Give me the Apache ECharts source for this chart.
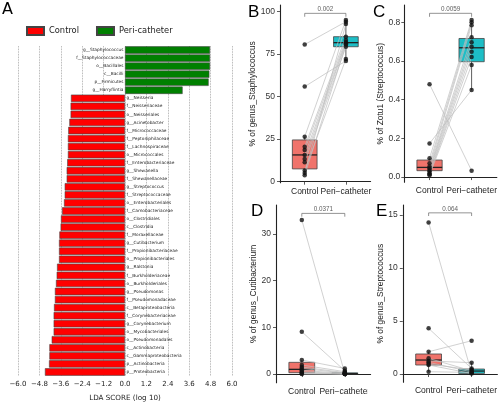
<!DOCTYPE html>
<html><head><meta charset="utf-8">
<script src="https://cdn.jsdelivr.net/npm/echarts@6/dist/echarts.min.js"></script>
<style>html,body{margin:0;padding:0;background:#fff}#c{width:500px;height:407px}</style>
</head><body><div id="c"></div>
<script>
// ---- Panel A: LDA scores (top to bottom) ----
const ldaTaxa = ['g__Staphylococcus','f__Staphylococcaceae','o__Bacillales','c__Bacilli','p__Firmicutes','g__Harryflintia',
 'g__Neisseria','f__Neisseriaceae','o__Neisseriales','g__Acinetobacter','f__Micrococcaceae','f__Peptoniphilaceae',
 'f__Lachnospiraceae','o__Micrococcales','f__Enterobacteriaceae','g__Shewanella','f__Shewanellaceae','g__Streptococcus',
 'f__Streptococcaceae','o__Enterobacteriales','f__Carnobacteriaceae','o__Clostridiales','c__Clostridia','f__Moraxellaceae',
 'g__Cutibacterium','f__Propionibacteriaceae','o__Propionibacteriales','g__Ralstonia','f__Burkholderiaceae','o__Burkholderiales',
 'g__Pseudomonas','f__Pseudomonadaceae','c__Betaproteobacteria','f__Corynebacteriaceae','g__Corynebacterium','o__Mycobacteriales',
 'o__Pseudomonadales','c__Actinobacteria','c__Gammaproteobacteria','p__Actinobacteria','p__Proteobacteria'];
const ldaScores = [4.77,4.77,4.77,4.73,4.69,3.23,
 -3.03,-3.05,-3.05,-3.12,-3.18,-3.20,
 -3.20,-3.20,-3.24,-3.27,-3.27,-3.38,
 -3.38,-3.42,-3.53,-3.59,-3.61,-3.68,
 -3.70,-3.70,-3.70,-3.81,-3.83,-3.87,
 -3.93,-3.93,-3.98,-4.00,-4.00,-4.00,
 -4.11,-4.24,-4.24,-4.26,-4.49];
const groupNames = ['Control','Peri-catheter'];
const xCatLabels = ['Control','Peri\u2212catheter'];

// ---- Panel B: % of genus_Staphylococcus ----
const bControl = [80.5,55.8,26.4,20.5,18.6,15.7,13.3,11.4,6.5,5.1,3.7];
const bPeri    = [93.9,70.9,94.9,85.1,83.2,82.0,81.2,79.2,72.0,92.5,80.5];
const bBoxControl = [3.7,7.5,15.7,24.5,26.4];
const bBoxPeri    = [70.9,79.2,81.6,85.1,94.9];
const bTicks = [0,25,50,75,100];
const bP = '0.002';

// ---- Panel C: % of Zotu1 (Streptococcus) ----
const cControl = [0.48,0.174,0.097,0.071,0.054,0.045,0.037,0.03,0.02,0.015,0.01];
const cPeri    = [0.033,0.45,0.811,0.80,0.785,0.722,0.696,0.673,0.648,0.62,0.579];
const cBoxControl = [0.01,0.033,0.05,0.088,0.097];
const cBoxPeri    = [0.45,0.596,0.668,0.716,0.811];
const cTicks = [0,0.2,0.4,0.6,0.8];
const cP = '0.0059';

// ---- Panel D: % of genus_Cutibacterium ----
const dControl = [33,9.06,3.0,1.93,1.5,1.2,0.8,0.5,0.3,0.1,0];
const dPeri    = [0.1,0.7,1.2,0.5,0.3,0.2,0.1,0.05,0,0,0];
const dBoxControl = [0,0.28,1.0,2.5,3.0];
const dBoxPeri    = [0,0.02,0.08,0.25,0.5];
const dTicks = [0,10,20,30];
const dP = '0.0371';

// ---- Panel E: % of genus_Streptococcus ----
const eControl = [14.3,4.31,2.1,1.48,1.23,1.1,0.94,0.85,0.22];
const ePeri    = [0.1,0.53,3.14,0.3,1.07,0.2,0.4,0.05,0.15];
const eBoxControl = [0.22,0.85,1.32,1.89,2.1];
const eBoxPeri    = [0,0.06,0.28,0.47,1.07];
const eTicks = [0,5,10,15];
const eP = '0.064';

const RED='#FF0000', GREEN='#008000', CTRL_FILL='#F0736B', PERI_FILL='#1DBEC6';
const FA = 'DejaVu Sans', FB = 'Liberation Sans, Arial, sans-serif';

const chart = echarts.init(document.getElementById('c'), null, {renderer:'canvas'});

const panels = [
 {grid:{left:280, top:5, width:90.6, height:177.7}, ymin:-0.6, ymax:103.7, ticks:bTicks, fmt:v=>String(v),
  title:'% of genus_Staphylococcus', gap:16.8, ctrl:bControl, peri:bPeri, boxC:bBoxControl, boxP:bBoxPeri, p:bP, br:[96.8,98.8], lm:5},
 {grid:{left:404.3, top:5, width:94, height:177.3}, ymin:-0.027, ymax:0.889, ticks:cTicks, fmt:v=>v.toFixed(1),
  title:'% of Zotu1 (Streptococcus)', gap:17.4, ctrl:cControl, peri:cPeri, boxC:cBoxControl, boxP:cBoxPeri, p:cP, br:[0.828,0.846], lm:4},
 {grid:{left:276, top:205, width:94.6, height:177.7}, ymin:-1.86, ymax:36.2, ticks:dTicks, fmt:v=>String(v),
  title:'% of genus_Cutibacterium', gap:13.8, ctrl:dControl, peri:dPeri, boxC:dBoxControl, boxP:dBoxPeri, p:dP, br:[33.7,34.4], lm:5},
 {grid:{left:402.8, top:205, width:94.6, height:177.3}, ymin:-0.78, ymax:15.94, ticks:eTicks, fmt:v=>String(v),
  title:'% of genus_Streptococcus', gap:15.8, ctrl:eControl, peri:ePeri, boxC:eBoxControl, boxP:eBoxPeri, p:eP, br:[14.9,15.2], lm:5}
];

const grids = [{left:18, top:46, width:214, height:335}];
const xAxes = [{
  type:'value', gridIndex:0, min:-6, max:6, interval:1.2,
  axisLine:{show:false}, axisTick:{show:false},
  splitLine:{show:true, lineStyle:{type:'dotted', color:'#999', width:0.8}},
  axisLabel:{fontFamily:FA, fontSize:7, color:'#222', margin:5,
    formatter:v=>(v< -1e-9?'\u2212':'')+Math.abs(v).toFixed(1)},
  name:'LDA SCORE (log 10)', nameLocation:'middle', nameGap:19,
  nameTextStyle:{fontFamily:FA, fontSize:7.2, color:'#222'}
}];
const yAxes = [{
  type:'category', gridIndex:0, data:ldaTaxa, inverse:true,
  axisLine:{show:false}, axisTick:{show:false}, axisLabel:{show:false}, splitLine:{show:false}
}];

const series = [
 {name:groupNames[0], type:'bar', xAxisIndex:0, yAxisIndex:0, barGap:'-100%', barCategoryGap:'8%',
  data:ldaScores.map(v=>v<0?v:'-'),
  itemStyle:{color:RED, borderColor:'#444', borderWidth:0.6},
  label:{show:true, position:'right', distance:1.5, formatter:p=>p.name, fontFamily:FA, fontSize:4.3, color:'#222'}},
 {name:groupNames[1], type:'bar', xAxisIndex:0, yAxisIndex:0, barGap:'-100%', barCategoryGap:'8%',
  data:ldaScores.map(v=>v>0?v:'-'),
  itemStyle:{color:GREEN, borderColor:'#444', borderWidth:0.6},
  label:{show:true, position:'left', distance:1.5, formatter:p=>p.name, fontFamily:FA, fontSize:4.3, color:'#222'}}
];

function boxRender(params, api){
  const x = api.value(0);
  const lo=api.coord([x,api.value(1)]), q1=api.coord([x,api.value(2)]), md=api.coord([x,api.value(3)]),
        q3=api.coord([x,api.value(4)]), hi=api.coord([x,api.value(5)]);
  const hw = api.size([0.6,0])[0]/2;
  const cx = q1[0];
  const col = api.visual('color');
  return {type:'group', children:[
    {type:'line', shape:{x1:cx,y1:lo[1],x2:cx,y2:q1[1]}, style:{stroke:'#333', lineWidth:0.8}},
    {type:'line', shape:{x1:cx,y1:q3[1],x2:cx,y2:hi[1]}, style:{stroke:'#333', lineWidth:0.8}},
    {type:'rect', shape:{x:cx-hw,y:q3[1],width:2*hw,height:Math.max(q1[1]-q3[1],0.8)}, style:{fill:col, stroke:'#444', lineWidth:0.8}},
    {type:'line', shape:{x1:cx-hw,y1:md[1],x2:cx+hw,y2:md[1]}, style:{stroke:'#222', lineWidth:1.3}}
  ]};
}
function pairRender(params, api){
  const a = api.coord([api.value(0), api.value(1)]);
  const b = api.coord([api.value(2), api.value(3)]);
  return {type:'line', shape:{x1:a[0],y1:a[1],x2:b[0],y2:b[1]}, style:{stroke:'#BDBDBD', lineWidth:0.7}};
}

const letters = [{type:'text', left:2, top:2, style:{text:'A', font:'16px "DejaVu Sans"', fill:'#000'}}];

panels.forEach((P, k)=>{
  const gi = k+1;
  grids.push(P.grid);
  xAxes.push({type:'value', gridIndex:gi, min:0.4, max:2.6,
    axisLine:{show:true, lineStyle:{color:'#222', width:1.1}},
    axisTick:{show:true, customValues:[1,2], length:3, lineStyle:{color:'#333', width:0.8}},
    axisLabel:{show:true, customValues:[1,2], hideOverlap:false, formatter:v=>xCatLabels[Math.round(v)-1], fontFamily:FB, fontSize:8.5, color:'#222', margin:4},
    splitLine:{show:false}});
  yAxes.push({type:'value', gridIndex:gi, min:P.ymin, max:P.ymax,
    axisLine:{show:true, lineStyle:{color:'#222', width:1.1}},
    axisTick:{show:true, customValues:P.ticks, length:3, lineStyle:{color:'#333', width:0.8}},
    axisLabel:{show:true, customValues:P.ticks, formatter:P.fmt, fontFamily:FB, fontSize:8.5, color:'#333', margin:P.lm},
    splitLine:{show:false},
    name:P.title, nameLocation:'middle', nameGap:P.gap,
    nameTextStyle:{fontFamily:FB, fontSize:8.4, color:'#222'}});
  series.push({type:'custom', xAxisIndex:gi, yAxisIndex:gi, renderItem:boxRender,
    encode:{x:0, y:[1,2,3,4,5]}, silent:true,
    data:[{value:[1].concat(P.boxC), itemStyle:{color:CTRL_FILL}}, {value:[2].concat(P.boxP), itemStyle:{color:PERI_FILL}}]});
  series.push({type:'custom', xAxisIndex:gi, yAxisIndex:gi, renderItem:pairRender,
    encode:{x:[0,2], y:[1,3]}, silent:true,
    data:P.ctrl.map((c,i)=>[1,c,2,P.peri[i]])});
  series.push({type:'scatter', xAxisIndex:gi, yAxisIndex:gi, symbolSize:4.5, silent:true,
    itemStyle:{color:'#111'},
    data:P.ctrl.map(c=>[1,c]).concat(P.peri.map(v=>[2,v]))});
  series.push({type:'line', xAxisIndex:gi, yAxisIndex:gi, symbol:'none', silent:true,
    lineStyle:{color:'#666', width:0.7},
    data:[[1,P.br[0]],[1,P.br[1]],[2,P.br[1]],[2,P.br[0]]]});
  series.push({type:'scatter', xAxisIndex:gi, yAxisIndex:gi, symbolSize:0, silent:true,
    data:[[1.5,P.br[1]]],
    label:{show:true, position:'top', distance:1, formatter:P.p, fontFamily:FB, fontSize:6.3, color:'#333'}});
});

letters.push({type:'text', left:248, top:4, style:{text:'B', font:'17px "Liberation Sans"', fill:'#000'}});
letters.push({type:'text', left:373, top:4, style:{text:'C', font:'17px "Liberation Sans"', fill:'#000'}});
letters.push({type:'text', left:251, top:203, style:{text:'D', font:'17px "Liberation Sans"', fill:'#000'}});
letters.push({type:'text', left:376, top:203, style:{text:'E', font:'17px "Liberation Sans"', fill:'#000'}});
// panel D's clipping edge (its last x label is cut by panel E in the reference)
letters.push({type:'rect', left:367.5, top:383, shape:{width:5, height:12}, style:{fill:'#fff'}, z:100});

chart.setOption({
  animation:false,
  backgroundColor:'#fff',
  legend:{data:groupNames, left:21, top:21, itemWidth:17, itemHeight:8, itemGap:17, icon:'rect',
    textStyle:{fontFamily:FA, fontSize:8.3, color:'#222'}},
  grid:grids, xAxis:xAxes, yAxis:yAxes, series:series, graphic:letters
});
</script></body></html>
